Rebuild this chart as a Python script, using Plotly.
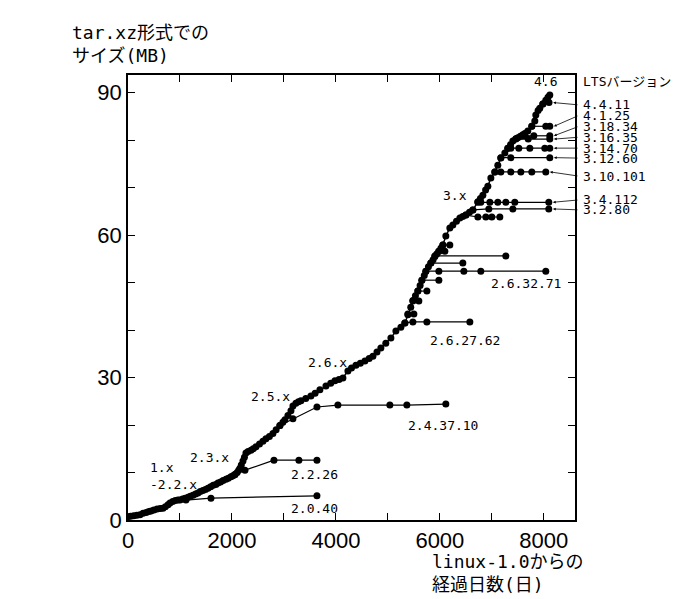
import plotly.graph_objects as go

# mainline releases: days since linux-1.0, tar.xz size (MB)
main_days = [0, 50, 110, 170, 231, 290, 350, 400, 442, 500, 560, 620, 673, 720, 770, 808, 860, 910, 960,
             1000, 1050, 1100, 1154, 1200, 1250, 1300, 1346, 1390, 1440, 1490, 1538, 1590, 1640, 1690, 1731,
             1780, 1830, 1885, 1930, 1980, 2020, 2058, 2100, 2130, 2154, 2180, 2212, 2240, 2269, 2310, 2365,
             2410, 2462, 2530, 2596, 2654, 2720, 2788, 2850, 2923, 2980, 3019, 3077, 3135, 3173, 3230, 3280,
             3327, 3420, 3519, 3600, 3692, 3808, 3900, 3981, 4060, 4135, 4231, 4300, 4385, 4470, 4558, 4640,
             4712, 4790, 4865, 4960, 5058, 5154, 5250, 5327, 5385, 5440, 5481, 5530, 5577, 5620, 5654, 5700,
             5731, 5780, 5827, 5870, 5904, 5940, 5981, 6020, 6058, 6115, 6192, 6250, 6320, 6385, 6440, 6500,
             6570, 6635, 6731, 6780, 6827, 6880, 6923, 6981, 7058, 7115, 7173, 7250, 7308, 7360, 7404, 7462,
             7500, 7550, 7596, 7635, 7692, 7769, 7827, 7846, 7890, 7923, 7981, 8038, 8080, 8115]
main_size = [0.7, 0.8, 0.9, 1.0, 1.1, 1.4, 1.6, 1.8, 1.9, 2.1, 2.3, 2.4, 2.5, 2.8, 3.2, 3.6, 3.9, 4.1, 4.2,
             4.2, 4.4, 4.6, 4.8, 5.0, 5.2, 5.5, 5.7, 6.0, 6.2, 6.4, 6.7, 7.0, 7.3, 7.5, 7.8,
             8.0, 8.3, 8.6, 8.8, 9.1, 9.3, 9.6, 10.0, 10.5, 10.9, 11.6, 12.4, 13.2, 14.1, 14.4, 14.7,
             15.0, 15.4, 16.0, 16.6, 17.1, 17.6, 18.2, 19.0, 19.9, 20.6, 21.1, 22.0, 23.0, 24.0, 24.6, 24.9,
             25.1, 25.6, 26.1, 26.7, 27.4, 28.2, 28.8, 29.3, 29.6, 29.9, 31.4, 32.0, 32.6, 33.0, 33.5, 34.0,
             34.5, 35.4, 36.2, 37.2, 38.3, 39.8, 40.6, 41.5, 43.2, 44.8, 46.2, 47.2, 48.2, 49.4, 50.5, 51.5,
             52.4, 53.3, 54.1, 54.8, 55.5, 56.0, 56.6, 57.2, 57.9, 59.8, 61.5, 62.1, 62.9, 63.6, 63.9, 64.2,
             64.8, 65.3, 67.0, 67.7, 68.4, 69.5, 70.3, 72.0, 73.3, 74.7, 76.2, 77.3, 78.3, 79.0, 79.8, 80.3,
             80.5, 80.8, 81.1, 81.4, 81.9, 82.9, 84.0, 85.3, 86.2, 86.7, 87.6, 88.4, 89.0, 89.5]

# stable branches (first point sits on the mainline)
branches = {
    "2.0": ([1115, 1596, 3635], [4.2, 4.6, 5.1]),
    "2.2": ([2058, 2250, 2808, 3288, 3635], [9.6, 10.5, 12.6, 12.6, 12.6]),
    "2.4": ([2923, 3173, 3635, 4038, 5038, 5365, 6115], [19.9, 21.3, 23.8, 24.2, 24.2, 24.2, 24.4]),
    "2.6.27": ([5327, 5481, 5750, 6577], [41.5, 41.7, 41.7, 41.7]),
    "2.6.28": ([5385, 5500], [43.4, 43.4]),
    "2.6.29": ([5481, 5596], [46.1, 46.1]),
    "2.6.30": ([5577, 5750], [48.2, 48.2]),
    "2.6.31": ([5654, 5981], [50.5, 50.5]),
    "2.6.32": ([5731, 5981, 6462, 6788, 8038], [52.4, 52.4, 52.4, 52.4, 52.4]),
    "2.6.33": ([5827, 6442], [54.1, 54.1]),
    "2.6.34": ([5904, 7269], [55.6, 55.6]),
    "2.6.35": ([5981, 6096], [56.6, 56.6]),
    "2.6.36": ([6058, 6192], [57.9, 57.9]),
    "3.0": ([6500, 6731, 6885, 7000, 7154], [64.2, 63.8, 63.8, 63.8, 63.8]),
    "3.2": ([6635, 6942, 7404, 8096], [65.3, 65.5, 65.5, 65.5]),
    "3.4": ([6731, 6788, 6962, 7115, 7269, 7442, 8096], [66.9, 66.9, 66.9, 66.9, 66.9, 66.9, 66.9]),
    "3.10": ([7058, 7173, 7365, 7558, 7769, 8038], [73.3, 73.3, 73.3, 73.3, 73.3, 73.3]),
    "3.12": ([7173, 7365, 8115], [76.3, 76.3, 76.3]),
    "3.14": ([7308, 7365, 7519, 7731, 8019, 8115], [78.3, 78.3, 78.3, 78.3, 78.3, 78.3]),
    "3.16": ([7462, 7700, 8115], [80.2, 80.2, 80.2]),
    "3.18": ([7635, 7808, 8115], [80.9, 80.9, 80.9]),
    "4.1": ([7769, 8038, 8115], [82.9, 82.9, 82.9]),
    "4.4": ([7981, 8100], [87.6, 87.9]),
}

# LTS labels on the right: branch key, text, label y
lts_keys = ["4.4", "4.1", "3.18", "3.16", "3.14", "3.12", "3.10", "3.4", "3.2"]
lts_text = ["4.4.11", "4.1.25", "3.18.34", "3.16.35", "3.14.70", "3.12.60", "3.10.101", "3.4.112", "3.2.80"]
lts_label_y = [87.4, 85.2, 82.9, 80.6, 78.3, 76.2, 72.4, 67.4, 65.3]

# labels inside the plot
inner_text = ["4.6", "3.x", "2.6.x", "2.5.x", "2.3.x", "1.x<br>-2.2.x", "2.2.26", "2.0.40",
              "2.4.37.10", "2.6.27.62", "2.6.32.71"]
inner_x = [8038, 6288, 3846, 2750, 1577, 385, 3596, 3596, 6058, 6481, 7654]
inner_y = [92.3, 68.4, 33.1, 26.1, 13.1, 9.2, 9.5, 2.5, 20.0, 37.9, 49.7]
inner_anchor = ["center", "center", "center", "center", "center", "left", "center", "center",
                "center", "center", "center"]

X_MAX, Y_MAX = 8600, 93.7
L, R, T, B = 120, 133, 67, 87
W, H = 700, 599
pw, ph = W - L - R, H - T - B
MONO = "DejaVu Sans Mono, Noto Sans CJK JP"

fig = go.Figure()

for key, (bx, by) in branches.items():
    fig.add_trace(go.Scatter(x=bx, y=by, mode="lines+markers",
                             line=dict(color="black", width=1.2),
                             marker=dict(color="black", size=7), showlegend=False))

fig.add_trace(go.Scatter(x=main_days, y=main_size, mode="lines+markers",
                         line=dict(color="black", width=1.5),
                         marker=dict(color="black", size=7), showlegend=False))

label_px = L + pw + 6  # left edge of the LTS labels, in pixels
for key, txt, ly in zip(lts_keys, lts_text, lts_label_y):
    bx, by = branches[key]
    fig.add_annotation(xref="paper", x=(label_px - L) / pw, y=ly, text=txt, showarrow=False,
                       xanchor="left", font=dict(family=MONO, size=13, color="black"))
    hx, hy = bx[-1] + 80, by[-1]
    head_px = L + hx * pw / X_MAX
    fig.add_annotation(x=hx, y=hy, ax=label_px - 2 - head_px, ay=(hy - ly) * ph / Y_MAX,
                       text="", showarrow=True, arrowhead=2, arrowsize=0.7, arrowwidth=0.8,
                       arrowcolor="black", standoff=0, startstandoff=0)

fig.add_annotation(xref="paper", x=(label_px - L) / pw, y=92.4, text="LTSバージョン", showarrow=False,
                   xanchor="left", font=dict(family=MONO, size=13, color="black"))

for txt, tx, ty, anc in zip(inner_text, inner_x, inner_y, inner_anchor):
    fig.add_annotation(x=tx, y=ty, text=txt, showarrow=False, xanchor=anc, align="left",
                       font=dict(family=MONO, size=13, color="black"))

# axis titles
fig.add_annotation(xref="paper", yref="paper", x=-0.13, y=1.07, text="tar.xz形式での<br>サイズ(MB)",
                   showarrow=False, xanchor="left", yanchor="middle", align="left",
                   font=dict(family=MONO, size=18, color="black"))
fig.add_annotation(xref="paper", yref="paper", x=0.676, y=-0.12, text="linux-1.0からの<br>経過日数(日)",
                   showarrow=False, xanchor="left", yanchor="middle", align="left",
                   font=dict(family=MONO, size=18, color="black"))

axis_common = dict(showgrid=False, zeroline=False, showline=True, linecolor="black", linewidth=1.5,
                   mirror="ticks", ticks="inside", ticklen=7, tickcolor="black", tickwidth=1.2,
                   automargin=False,
                   tickfont=dict(family="Liberation Sans, Arial", size=22, color="black"))

fig.update_xaxes(range=[0, X_MAX], tickvals=list(range(0, 9000, 1000)),
                 ticktext=["0", "", "2000", "", "4000", "", "6000", "", "8000"], **axis_common)
fig.update_yaxes(range=[0, Y_MAX], tickvals=list(range(0, 100, 10)),
                 ticktext=["0", "", "", "30", "", "", "60", "", "", "90"], **axis_common)

fig.update_layout(width=W, height=H, plot_bgcolor="white", paper_bgcolor="white",
                  margin=dict(l=L, r=R, t=T, b=B), showlegend=False)

fig.write_html("out.html")
